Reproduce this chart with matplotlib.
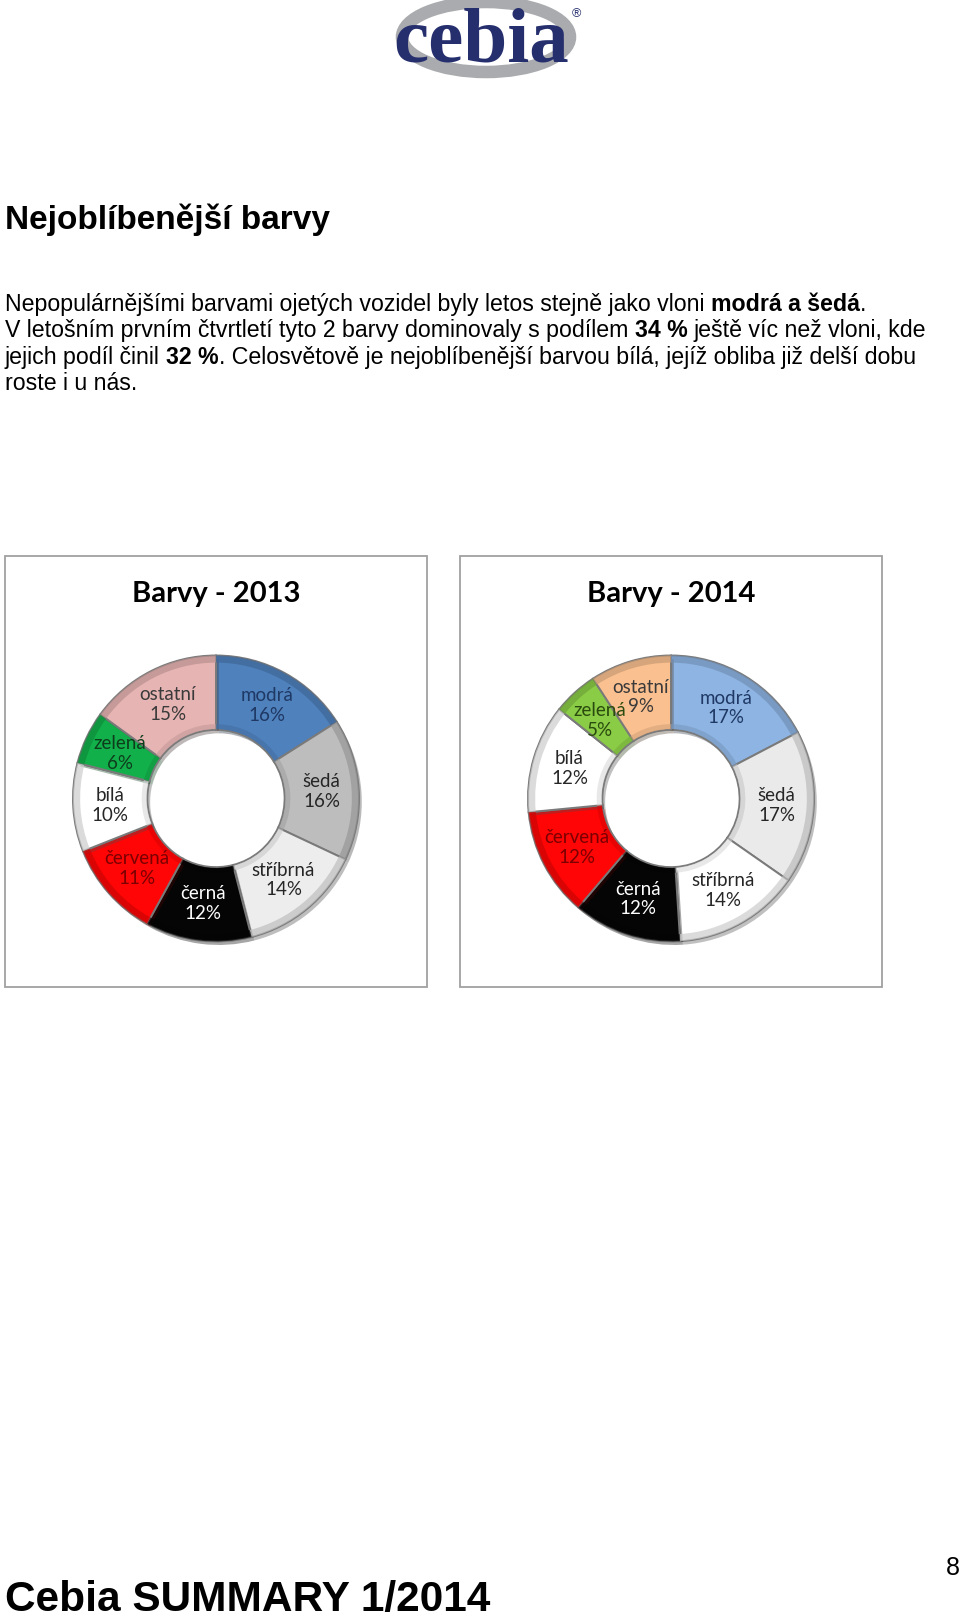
import matplotlib
matplotlib.use('Agg')
import matplotlib.pyplot as plt
import matplotlib.patheffects as pe
from matplotlib.patches import Rectangle, Ellipse
from matplotlib.colors import to_rgb
import numpy as np

# data
labels = ['modrá', 'šedá', 'stříbrná', 'černá', 'červená', 'bílá', 'zelená', 'ostatní']
share_2013 = [16, 16, 14, 12, 11, 10, 6, 15]
share_2014 = [17, 17, 14, 12, 12, 12, 5, 9]

colors_2013 = ['#4F81BD', '#BDBDBD', '#EDEDED', '#050505', '#FF0505', '#FFFFFF', '#12B04A', '#E6B4B3']
colors_2014 = ['#8DB4E2', '#EAEAEA', '#FFFFFF', '#050505', '#FF0505', '#FFFFFF', '#8ACC45', '#FAC090']
text_2013 = ['#1F3864', '#262626', '#262626', '#FFFFFF', '#7A0000', '#262626', '#0E3D1C', '#3A3A3A']
text_2014 = ['#1F3864', '#262626', '#262626', '#FFFFFF', '#7A0000', '#262626', '#2A4A0E', '#3A3A3A']

W, H = 960, 1621
fig = plt.figure(figsize=(W / 100, H / 100), dpi=100)
page = fig.add_axes([0, 0, 1, 1])
page.set_xlim(0, W)
page.set_ylim(H, 0)
page.axis('off')

SANS = ['Liberation Sans', 'DejaVu Sans']
CHART = ['Lato', 'DejaVu Sans']

# logo
page.add_patch(Ellipse((486, 37), 168, 70, facecolor='none', edgecolor='#A9ABAE', lw=9))
page.text(481, 62, 'cebia', family=['Liberation Serif'], weight='bold', fontsize=57,
          color='#262F6E', ha='center', va='baseline')
page.text(576, 14, '®', family=SANS, fontsize=9, color='#262F6E', ha='center', va='center')

# heading
page.text(5, 229, 'Nejoblíbenější barvy', family=SANS, weight='bold', fontsize=24,
          ha='left', va='baseline')

renderer = fig.canvas.get_renderer()


def text_width(s, weight, size):
    t = page.text(0, 0, s, family=SANS, weight=weight, fontsize=size)
    w = t.get_window_extent(renderer).width
    t.remove()
    return w


def draw_line(y, segs, size=16.7):
    x = 5
    for s, weight in segs:
        sp = text_width('x x', weight, size) - text_width('xx', weight, size)
        lead = len(s) - len(s.lstrip(' '))
        trail = len(s) - len(s.rstrip(' '))
        x += lead * sp
        body = s.strip(' ')
        if body:
            t = page.text(x, y, body, family=SANS, weight=weight, fontsize=size,
                          ha='left', va='baseline')
            x += t.get_window_extent(renderer).width
        x += trail * sp


para = [
    [('Nepopulárnějšími barvami ojetých vozidel byly letos stejně jako vloni ', 'normal'),
     ('modrá a šedá', 'bold'), ('.', 'normal')],
    [('V letošním prvním čtvrtletí tyto 2 barvy dominovaly s podílem ', 'normal'),
     ('34 %', 'bold'), (' ještě víc než vloni, kde', 'normal')],
    [('jejich podíl činil ', 'normal'), ('32 %', 'bold'),
     ('. Celosvětově je nejoblíbenější barvou bílá, jejíž obliba již delší dobu', 'normal')],
    [('roste i u nás.', 'normal')],
]
for i, segs in enumerate(para):
    draw_line(311 + i * 26.4, segs)


def shade(c, f):
    return tuple(np.clip(np.array(to_rgb(c)) * f, 0, 1))


def donut(box_x, cx, title, values, cols, tcols):
    page.add_patch(Rectangle((box_x, 556), 422, 431, facecolor='white',
                             edgecolor='#A0A0A0', lw=1.3))
    page.text(box_x + 211, 594, title, family=CHART, weight='bold', fontsize=21,
              ha='center', va='center')
    cy, R = 798.5, 143
    ax = fig.add_axes([(cx - R) / W, 1 - (cy + R) / H, 2 * R / W, 2 * R / H])
    wedges, _ = ax.pie(values, colors=cols, startangle=90, counterclock=False,
                       radius=1, wedgeprops=dict(width=0.52, edgecolor='#7A7A7A', lw=1.4))
    for w in wedges:
        w.set_clip_on(False)
        w.set_path_effects([pe.SimplePatchShadow(offset=(2, -2.5), alpha=0.35), pe.Normal()])
    # bevel-like rims: darker outer band, lighter inner band
    ax.pie(values, colors=[shade(c, 0.8) for c in cols], startangle=90,
           counterclock=False, radius=1,
           wedgeprops=dict(width=0.05, edgecolor='none', alpha=0.7))
    ax.pie(values, colors=[shade(c, 0.85) for c in cols], startangle=90,
           counterclock=False, radius=0.52,
           wedgeprops=dict(width=0.035, edgecolor='none', alpha=0.6))
    for w, lab, tc in zip(wedges, labels, tcols):
        ang = np.deg2rad((w.theta1 + w.theta2) / 2)
        r = 1 - 0.52 / 2
        pct = round(100 * (w.theta2 - w.theta1) / 360 * sum(values) / 100)
        ax.text(r * np.cos(ang), r * np.sin(ang), '%s\n%d%%' % (lab, pct),
                family=CHART, fontsize=13.5, color=tc, ha='center', va='center',
                linespacing=1.2, zorder=5)
    ax.set_xlim(-1, 1)
    ax.set_ylim(-1, 1)
    ax.set_aspect('equal')
    ax.axis('off')


donut(5, 216, 'Barvy - 2013', share_2013, colors_2013, text_2013)
donut(460, 671, 'Barvy - 2014', share_2014, colors_2014, text_2014)

# footer
page.text(5, 1611, 'Cebia SUMMARY 1/2014', family=SANS, weight='bold', fontsize=30.5,
          ha='left', va='baseline')
page.text(953, 1575, '8', family=SANS, fontsize=18, ha='center', va='baseline')

fig.savefig('out.png', dpi=100)
